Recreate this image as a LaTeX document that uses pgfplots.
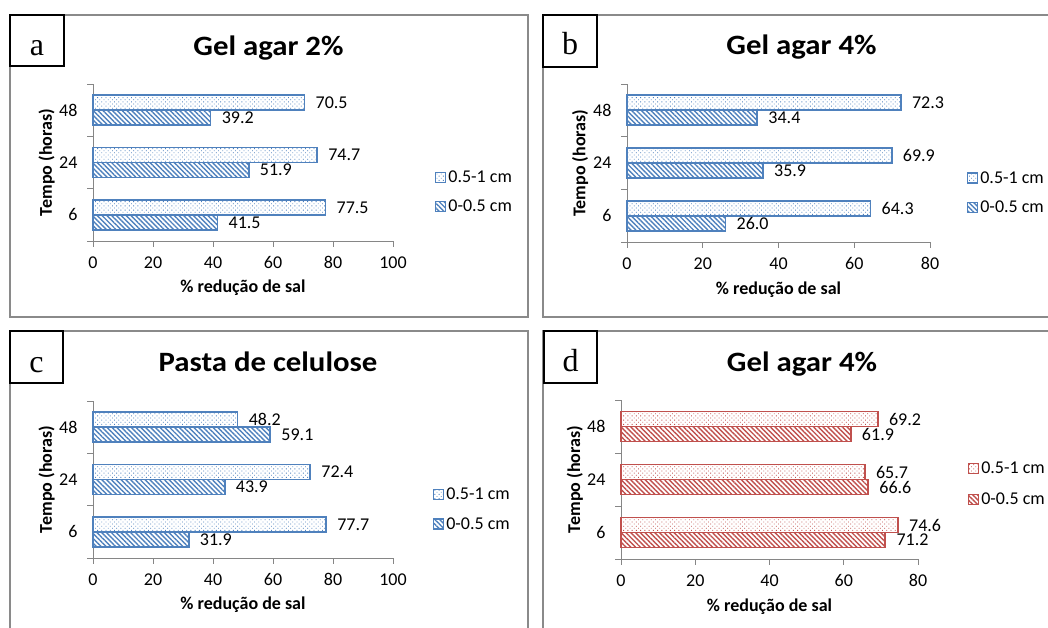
\documentclass[border=0pt]{standalone}
\usepackage{fontspec}
\setmainfont{Carlito}
\newfontfamily\letterfont{Liberation Serif}
\newfontfamily\titlefont[FakeStretch=1.1]{Carlito}
\usepackage{pgfplots}
\pgfplotsset{compat=1.18}
\usetikzlibrary{patterns.meta}
\definecolor{xblue}{HTML}{4F81BD}
\definecolor{xred}{HTML}{C0504D}
\definecolor{framegray}{HTML}{8A8A8A}
\definecolor{axgray}{HTML}{868686}
\tikzset{
  dotpat/.style={pattern={Dots[distance=3pt, radius=0.6pt, angle=45]}, pattern color=#1},
  hatpat/.style={pattern={Lines[distance=3.4pt, angle=-45, line width=1.4pt]}, pattern color=#1},
}
\newcommand{\txt}{\fontsize{18}{21}\selectfont}
\newcommand{\bticks}{%
  \draw[axgray, line width=0.9pt] (axis cs:0,-0.5) -- ++(-6pt,0pt);
  \draw[axgray, line width=0.9pt] (axis cs:0,0.5) -- ++(-6pt,0pt);
  \draw[axgray, line width=0.9pt] (axis cs:0,1.5) -- ++(-6pt,0pt);
  \draw[axgray, line width=0.9pt] (axis cs:0,2.5) -- ++(-6pt,0pt);}
\pgfplotsset{
  excel/.style={
    scale only axis,
    axis lines*=left,
    axis line style={draw=axgray, line width=0.9pt},
    xbar, bar width=15pt,
    ymin=-0.5, ymax=2.5,
    ytick={-0.5,0.5,1.5,2.5}, yticklabels={},
    extra y ticks={0,1,2}, extra y tick labels={6,24,48},
    extra y tick style={tick style={draw=none}},
    tick align=outside,
    major tick length=6pt,
    tick style={draw=axgray, line width=0.9pt},
    xmin=0,
    ticklabel style={font=\txt},
    xticklabel style={yshift=-6pt},
    yticklabel style={xshift=-6pt},
    /pgf/number format/assume math mode=true,
    xlabel={\% redução de sal},
    ylabel={Tempo (horas)},
    every axis x label/.style={at={(axis description cs:0.5,-0.30)}, anchor=center, font=\txt\bfseries},
    every axis y label/.style={at={(axis description cs:-0.155,0.5)}, anchor=center, rotate=90, font=\txt\bfseries},
    point meta=x,
    nodes near coords={\pgfmathprintnumber[fixed,fixed zerofill,precision=1,assume math mode=true]{\pgfplotspointmeta}},
    every node near coord/.append style={font=\txt, text=black, xshift=7pt, inner ysep=0pt},
    legend style={draw=none, fill=none, inner sep=0pt, row sep=12pt, font=\txt, anchor=west},
    legend cell align=left,
    legend image code/.code={\draw[#1, line width=1.2pt] (0pt,-5pt) rectangle (10pt,5pt);},
    clip=false,
  },
}
\begin{document}
\begin{tikzpicture}[x=1pt,y=1pt]
\path[use as bounding box, clip] (0,0) rectangle (1048,628);
% frames
\draw[framegray, line width=1.3pt] (10,613) rectangle (528,311);
\draw[framegray, line width=1.3pt] (543,613) rectangle (1070,311);
\draw[framegray, line width=1.3pt] (10,297) rectangle (528,-20);
\draw[framegray, line width=1.3pt] (543,297) rectangle (1070,-20);

% panel a
\begin{axis}[excel, at={(93pt,387pt)}, anchor=south west, width=300pt, height=157pt,
  xmax=100, xtick={0,20,...,100},
  legend style={at={(axis description cs:1.14,0.312)}}]
\addplot[draw=xblue, line width=1.7pt, dotpat=xblue, bar shift=7.5pt] coordinates {(77.5,0) (74.7,1) (70.5,2)};
\addplot[draw=xblue, line width=1.7pt, hatpat=xblue, bar shift=-7.5pt] coordinates {(41.5,0) (51.9,1) (39.2,2)};
\legend{0.5-1 cm, 0-0.5 cm}
\bticks
\end{axis}

% panel b
\begin{axis}[excel, at={(627pt,386pt)}, anchor=south west, width=303pt, height=158pt,
  xmax=80, xtick={0,20,...,80},
  legend style={at={(axis description cs:1.122,0.313)}}]
\addplot[draw=xblue, line width=1.7pt, dotpat=xblue, bar shift=7.5pt] coordinates {(64.3,0) (69.9,1) (72.3,2)};
\addplot[draw=xblue, line width=1.7pt, hatpat=xblue, bar shift=-7.5pt] coordinates {(26.0,0) (35.9,1) (34.4,2)};
\legend{0.5-1 cm, 0-0.5 cm}
\bticks
\end{axis}

% panel c
\begin{axis}[excel, at={(93pt,70pt)}, anchor=south west, width=300pt, height=157pt,
  xmax=100, xtick={0,20,...,100},
  legend style={at={(axis description cs:1.133,0.309)}}]
\addplot[draw=xblue, line width=1.7pt, dotpat=xblue, bar shift=7.5pt] coordinates {(77.7,0) (72.4,1) (48.2,2)};
\addplot[draw=xblue, line width=1.7pt, hatpat=xblue, bar shift=-7.5pt] coordinates {(31.9,0) (43.9,1) (59.1,2)};
\legend{0.5-1 cm, 0-0.5 cm}
\bticks
\end{axis}

% panel d
\begin{axis}[excel, at={(621pt,69pt)}, anchor=south west, width=297pt, height=159pt,
  xmax=80, xtick={0,20,...,80},
  legend style={at={(axis description cs:1.168,0.472)}, row sep=13.5pt}]
\addplot[draw=xred, line width=1.7pt, dotpat=xred, bar shift=7.5pt] coordinates {(74.6,0) (65.7,1) (69.2,2)};
\addplot[draw=xred, line width=1.7pt, hatpat=xred, bar shift=-7.5pt] coordinates {(71.2,0) (66.6,1) (61.9,2)};
\legend{0.5-1 cm, 0-0.5 cm}
\bticks
\end{axis}

% letter boxes
\draw[black, line width=1.4pt, fill=white] (10,613) rectangle (64,562);
\draw[black, line width=1.4pt, fill=white] (543,613) rectangle (597,561);
\draw[black, line width=1.4pt, fill=white] (10,297) rectangle (63,245);
\draw[black, line width=1.4pt, fill=white] (544,297) rectangle (597,245);
\node[anchor=base, inner sep=0pt, font=\letterfont\fontsize{32}{36}\selectfont] at (37,572) {a};
\node[anchor=base, inner sep=0pt, font=\letterfont\fontsize{32}{36}\selectfont] at (570,573) {b};
\node[anchor=base, inner sep=0pt, font=\letterfont\fontsize{32}{36}\selectfont] at (36.5,255) {c};
\node[anchor=base, inner sep=0pt, font=\letterfont\fontsize{32}{36}\selectfont] at (570.5,256) {d};
% titles
\node[anchor=base, inner sep=0pt, font=\titlefont\bfseries\fontsize{28}{32}\selectfont] at (268.5,572) {Gel agar 2\%};
\node[anchor=base, inner sep=0pt, font=\titlefont\bfseries\fontsize{28}{32}\selectfont] at (801.5,573) {Gel agar 4\%};
\node[anchor=base, inner sep=0pt, font=\titlefont\bfseries\fontsize{28}{32}\selectfont] at (268,256) {Pasta de celulose};
\node[anchor=base, inner sep=0pt, font=\titlefont\bfseries\fontsize{28}{32}\selectfont] at (802,256) {Gel agar 4\%};
\end{tikzpicture}
\end{document}
